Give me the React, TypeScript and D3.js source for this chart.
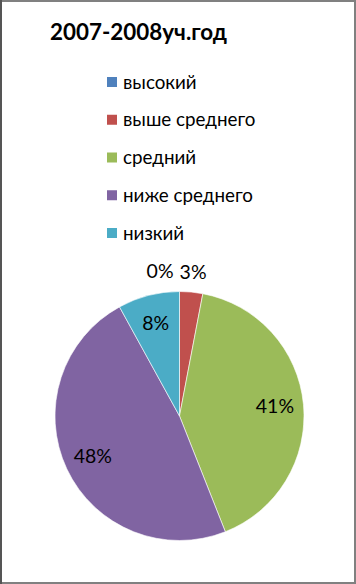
import React from "react";
import * as d3 from "d3";

const title = "2007-2008уч.год";
const categories = ["высокий", "выше среднего", "средний", "ниже среднего", "низкий"];
const values = [0, 3, 41, 48, 8];
const colors = ["#4F81BD", "#C0504D", "#9BBB59", "#8064A2", "#4BACC6"];

const W = 356;
const H = 584;
const FONT = "Lato, 'Open Sans', sans-serif";

export default function App() {
  const cx = 179.5;
  const cy = 416;
  const R = 124.5;
  const total = d3.sum(values);
  const pie = d3.pie<number>().sort(null).value((d) => d).startAngle(0).endAngle(2 * Math.PI);
  const arcs = pie(values);
  const arcGen = d3.arc<d3.PieArcDatum<number>>().innerRadius(0).outerRadius(R);
  const fmt = (v: number) => `${Math.round((v / total) * 100)}%`;

  const inside = arcs.filter((a) => a.data / total >= 0.05);
  const outside = arcs.filter((a) => a.data / total < 0.05);
  const inR = R * 0.77;
  const outR = R + 20;
  const lw = 25;
  const outPos = outside.map((a) => {
    const m = (a.startAngle + a.endAngle) / 2;
    return { a, x: cx + outR * Math.sin(m), y: cy - outR * Math.cos(m) };
  });
  for (let i = outPos.length - 2; i >= 0; i--) {
    const maxX = outPos[i + 1].x - lw - 8;
    if (outPos[i].x > maxX) outPos[i].x = maxX;
  }

  const legendY = d3.scalePoint<string>().domain(categories).range([82, 233]);

  return (
    <svg width={W} height={H} style={{ position: "absolute", left: 0, top: 0 }}>
      <rect x={0} y={0} width={W} height={H} fill="#ffffff" />
      <rect x={1} y={1} width={W - 2} height={H - 2} fill="none" stroke="#808080" strokeWidth={2} />
      <line x1={1} y1={0} x2={1} y2={H} stroke="#555555" strokeWidth={2} />
      <text x={50} y={40} fontFamily={FONT} fontWeight="bold" fontSize={22} fill="#000" textLength={177} lengthAdjust="spacingAndGlyphs">
        {title}
      </text>
      {categories.map((c, i) => (
        <g key={c}>
          <rect x={107} y={(legendY(c) as number) - 5} width={10} height={10} fill={colors[i]} />
          <text x={123} y={(legendY(c) as number) + 6.5} fontFamily={FONT} fontSize={18.8} fill="#000">
            {c}
          </text>
        </g>
      ))}
      <g transform={`translate(${cx},${cy})`}>
        {arcs.map((a, i) => (
          <path key={i} d={arcGen(a) || ""} fill={colors[i]} stroke="#ffffff" strokeWidth={0.6} />
        ))}
      </g>
      {inside.map((a, i) => {
        const m = (a.startAngle + a.endAngle) / 2;
        const x = cx + inR * Math.sin(m);
        const y = cy - inR * Math.cos(m);
        return (
          <text key={"in" + i} x={x} y={y + 6.5} textAnchor="middle" fontFamily={FONT} fontSize={19.5} fill="#000">
            {fmt(a.data)}
          </text>
        );
      })}
      {outPos.map((p, i) => (
        <text key={"out" + i} x={p.x} y={p.y + 6.5} textAnchor="middle" fontFamily={FONT} fontSize={19.5} fill="#000">
          {fmt(p.a.data)}
        </text>
      ))}
    </svg>
  );
}
